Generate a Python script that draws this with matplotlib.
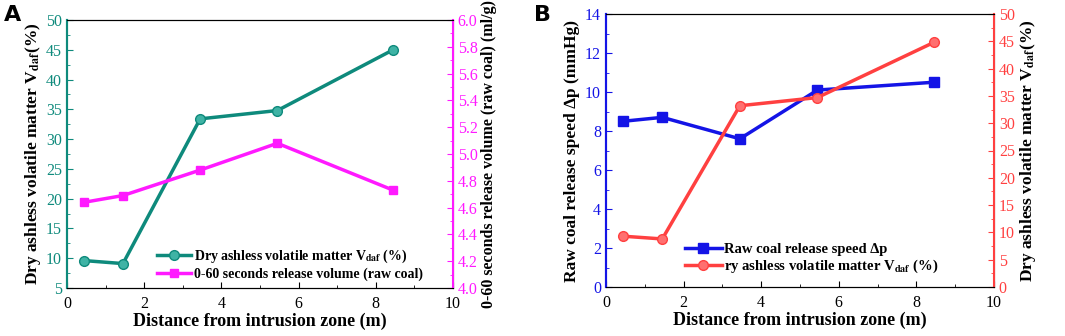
import matplotlib
matplotlib.use("Agg")
import matplotlib.pyplot as plt
from matplotlib.ticker import MultipleLocator

plt.rcParams['font.family'] = ['Liberation Serif', 'DejaVu Serif']
plt.rcParams['mathtext.fontset'] = 'stix'

# data
dist = [0.45, 1.45, 3.45, 5.45, 8.45]
vdaf_a = [9.6, 9.1, 33.4, 34.8, 45.0]
release_vol = [4.64, 4.69, 4.88, 5.08, 4.73]
speed_b = [8.5, 8.7, 7.6, 10.1, 10.5]
vdaf_b = [9.3, 8.8, 33.2, 34.7, 44.8]

teal = '#0e8a7c'
magenta = '#ff1aff'
blue = '#1414e6'
red = '#ff4040'

fig = plt.figure(figsize=(10.65, 3.36), dpi=100)
W, H = 1065, 336


def style(ax):
    ax.tick_params(axis='both', direction='in', labelsize=11.5, length=4)
    ax.tick_params(axis='x', pad=6)
    ax.tick_params(which='minor', direction='in', length=2)
    ax.xaxis.set_minor_locator(MultipleLocator(1))


# ---------- panel A ----------
axA = fig.add_axes([67 / W, 1 - 288 / H, (453 - 67) / W, (288 - 20) / H])
axA.plot(dist, vdaf_a, '-o', color=teal, lw=2.5, ms=7, mec=teal, mfc='#3fb3a5',
         label='Dry ashless volatile matter V$_{\\mathbf{daf}}$ (%)')
axA.set_xlim(0, 10)
axA.set_ylim(5, 50)
axA.yaxis.set_major_locator(MultipleLocator(5))
axA.yaxis.set_minor_locator(MultipleLocator(2.5))
axA.xaxis.set_major_locator(MultipleLocator(2))
style(axA)
axA.tick_params(axis='y', colors=teal, labelcolor=teal, which='both')
axA.spines['left'].set_color(teal)
axA.spines['left'].set_linewidth(1.5)
axA.set_xlabel('Distance from intrusion zone (m)', fontsize=13, fontweight='bold',
               labelpad=0)
axA.set_ylabel('Dry ashless volatile matter V$_{\\mathbf{daf}}$(%)', fontsize=12.5,
               fontweight='bold', labelpad=2)

axA2 = axA.twinx()
axA2.plot(dist, release_vol, '-s', color=magenta, lw=2.5, ms=6,
          label='0-60 seconds release volume (raw coal)')
axA2.set_ylim(4.0, 6.0)
axA2.yaxis.set_major_locator(MultipleLocator(0.2))
axA2.yaxis.set_minor_locator(MultipleLocator(0.1))
style(axA2)
axA2.tick_params(axis='y', colors=magenta, labelcolor=magenta, which='both')
axA2.spines['right'].set_color(magenta)
axA2.spines['right'].set_linewidth(1.5)
axA2.spines['left'].set_color(teal)
axA2.spines['left'].set_linewidth(1.5)
axA2.set_ylabel('0-60 seconds release volume (raw coal) (ml/g)', fontsize=11.5,
                fontweight='bold', labelpad=2)

hA = axA.get_lines() + axA2.get_lines()
axA.legend(hA, [l.get_label() for l in hA], loc='lower left',
           bbox_to_anchor=(0.2, -0.02), frameon=False, handlelength=2.5,
           handletextpad=0.2, labelspacing=0.15,
           prop={'family': 'Liberation Serif', 'weight': 'bold', 'size': 10})
fig.text(4 / W, 1 - 15 / H, 'A', fontsize=16, fontweight='bold',
         family='DejaVu Sans', va='center')

# ---------- panel B ----------
axB = fig.add_axes([606 / W, 1 - 287 / H, (994 - 606) / W, (287 - 14) / H])
axB.plot(dist, speed_b, '-s', color=blue, lw=2.5, ms=7,
         label='Raw coal release speed \u2206p')
axB.set_xlim(0, 10)
axB.set_ylim(0, 14)
axB.yaxis.set_major_locator(MultipleLocator(2))
axB.yaxis.set_minor_locator(MultipleLocator(1))
axB.xaxis.set_major_locator(MultipleLocator(2))
style(axB)
axB.tick_params(axis='y', colors=blue, labelcolor=blue, which='both')
axB.spines['left'].set_color(blue)
axB.spines['left'].set_linewidth(1.5)
axB.set_xlabel('Distance from intrusion zone (m)', fontsize=13, fontweight='bold',
               labelpad=0)
axB.set_ylabel('Raw coal release speed \u2206p (mmHg)', fontsize=12.5,
               fontweight='bold', labelpad=4)

axB2 = axB.twinx()
axB2.plot(dist, vdaf_b, '-o', color=red, lw=2.5, ms=7, mfc='#ff7070',
          label='ry ashless volatile matter V$_{\\mathbf{daf}}$ (%)')
axB2.set_ylim(0, 50)
axB2.yaxis.set_major_locator(MultipleLocator(5))
axB2.yaxis.set_minor_locator(MultipleLocator(2.5))
style(axB2)
axB2.tick_params(axis='y', colors=red, labelcolor=red, which='both')
axB2.spines['right'].set_color(red)
axB2.spines['right'].set_linewidth(1.5)
axB2.spines['left'].set_color(blue)
axB2.spines['left'].set_linewidth(1.5)
axB2.set_ylabel('Dry ashless volatile matter V$_{\\mathbf{daf}}$(%)', fontsize=12.5,
                fontweight='bold', labelpad=2)

hB = axB.get_lines() + axB2.get_lines()
axB.legend(hB, [l.get_label() for l in hB], loc='lower left',
           bbox_to_anchor=(0.17, -0.005), frameon=False, handlelength=2.5,
           handletextpad=0.2, labelspacing=0.15,
           prop={'family': 'Liberation Serif', 'weight': 'bold', 'size': 10.5})
fig.text(534 / W, 1 - 15 / H, 'B', fontsize=16, fontweight='bold',
         family='DejaVu Sans', va='center')

fig.savefig('out.png', dpi=100)
